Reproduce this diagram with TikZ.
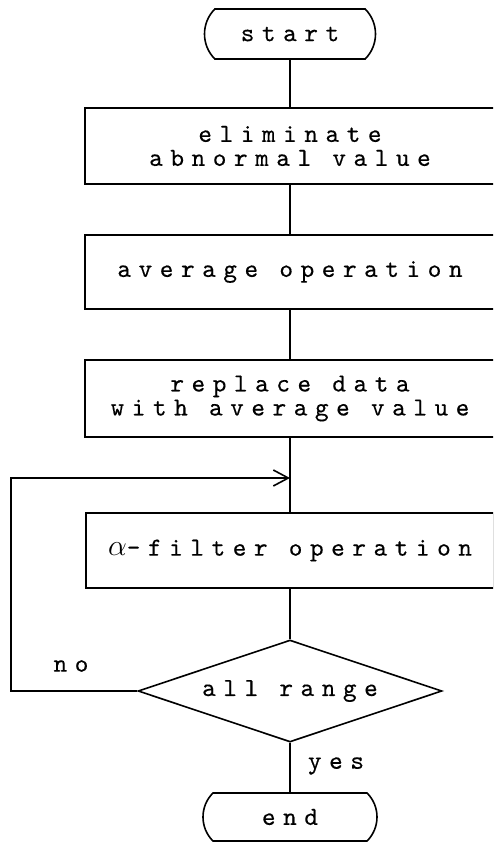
\documentclass[tikz,border=0pt]{standalone}
\usepackage{fontspec}
\newfontfamily\tw{lmmono10-regular}[Extension=.otf,LetterSpace=29,FakeBold=0.3]
\usetikzlibrary{shapes.geometric,shapes.misc,arrows.meta}
\begin{document}
\begin{tikzpicture}[x=1pt,y=-1pt,line width=1.6pt,
  txt/.style={font=\tw\fontsize{26}{24}\selectfont},
  box/.style={txt,draw,rectangle,inner sep=0pt,align=center},
  term/.style={txt,draw,rounded rectangle,rounded rectangle arc length=90,inner sep=0pt},
  dec/.style={txt,draw,diamond,inner sep=0pt},
  lbl/.style={txt,inner sep=0pt}]
\useasboundingbox (0,0) rectangle (493,842);
\clip (0,0) rectangle (493,842);
\node[term,minimum width=171pt,minimum height=50pt] (start) at (290,34) {start};
\node[box,minimum width=410pt,minimum height=76pt] (b1) at (290,146) {eliminate\\abnormal value};
\node[box,minimum width=410pt,minimum height=74pt] (b2) at (290,272) {average operation};
\node[box,minimum width=410pt,minimum height=77pt] (b3) at (290,398.5) {replace data\\with average value};
\node[box,minimum width=408pt,minimum height=75pt] (b4) at (290,550.5) {\scalebox{1.2}{$\alpha$}-filter operation};
\node[dec,minimum width=304pt,minimum height=102pt,aspect=2.98] (dia) at (290,691) {all range};
\node[term,minimum width=174pt,minimum height=48pt] (end) at (290,817) {end};
\node[lbl] (no) at (71,666) {no};
\node[lbl] (yes) at (336,766) {yes};
\coordinate (j) at (290,478);
\coordinate (lp) at (11,691);
\draw (start) -- (b1);
\draw (b1) -- (b2);
\draw (b2) -- (b3);
\draw (b3) -- (b4);
\draw (b4) -- (dia);
\draw (dia) -- (end);
\draw[-{Straight Barb[length=15pt,width=16pt]}] (dia.west) -- (lp) |- (j);
\end{tikzpicture}
\end{document}
